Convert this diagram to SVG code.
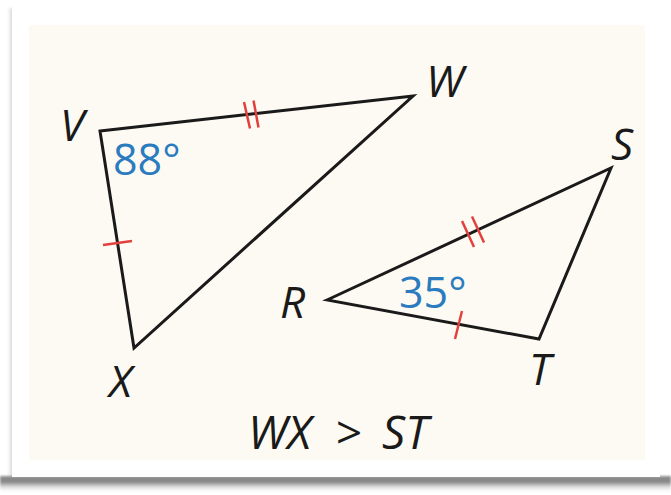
<svg xmlns="http://www.w3.org/2000/svg" width="671" height="495" viewBox="0 0 671 495">
  <defs>
    <linearGradient id="shadowB" x1="0" y1="0" x2="0" y2="1">
      <stop offset="0" stop-color="#909090"/>
      <stop offset="0.35" stop-color="#858585"/>
      <stop offset="1" stop-color="#ffffff" stop-opacity="0"/>
    </linearGradient>
    <linearGradient id="shadowL" x1="0" y1="0" x2="1" y2="0">
      <stop offset="0" stop-color="#ffffff" stop-opacity="0"/>
      <stop offset="1" stop-color="#c8c8c8"/>
    </linearGradient>
    <filter id="blur" x="-10%" y="-10%" width="120%" height="120%">
      <feGaussianBlur stdDeviation="1.2"/>
    </filter>
  </defs>
  <style>
    .edge { fill: none; stroke: #1a1a1a; stroke-width: 3; stroke-linejoin: miter; }
    .tick { stroke: #e2403c; stroke-width: 2.5; fill: none; }
    .lbl { font-family: "Open Sans", "Noto Sans", sans-serif; font-style: italic; font-size: 44px; fill: #1a1a1a; }
    .ang { font-family: "Open Sans", "Noto Sans", sans-serif; font-size: 43px; fill: #2b7bbf; }
  </style>

  <!-- card -->
  <g id="card">
    <rect x="0" y="0" width="671" height="495" fill="#ffffff"/>
    <rect x="6" y="8" width="7" height="470" fill="url(#shadowL)" filter="url(#blur)"/>
    <rect x="0" y="476" width="671" height="17" fill="url(#shadowB)" filter="url(#blur)"/>
    <rect x="12" y="7" width="648" height="470" fill="#ffffff"/>
    <rect x="29" y="25" width="616" height="435" fill="#fdfaf3"/>
  </g>

  <!-- triangle VWX -->
  <g id="triangle-VWX">
    <polygon class="edge" points="100,131 413,96 134,348"/>
    <text class="lbl" x="60" y="141">V</text>
    <text class="lbl" x="426" y="97">W</text>
    <text class="lbl" x="109" y="397">X</text>
    <text class="ang" x="113" y="175">88°</text>
  </g>

  <!-- triangle RST -->
  <g id="triangle-RST">
    <polygon class="edge" points="327,300 611,168 539,339"/>
    <text class="lbl" x="280" y="318">R</text>
    <text class="lbl" x="611" y="160">S</text>
    <text class="lbl" x="529" y="385">T</text>
    <text class="ang" x="399" y="308">35°</text>
  </g>

  <!-- congruence tick marks -->
  <g id="ticks">
    <line class="tick" x1="244" y1="102" x2="250" y2="128.5"/>
    <line class="tick" x1="253.5" y1="100.5" x2="258.5" y2="127.5"/>
    <line class="tick" x1="103" y1="245" x2="132" y2="241"/>
    <line class="tick" x1="462" y1="221" x2="474" y2="247"/>
    <line class="tick" x1="472" y1="216.5" x2="484" y2="242.5"/>
    <line class="tick" x1="462" y1="311" x2="455" y2="339"/>
  </g>

  <text class="lbl" y="449" style="font-size:46px" xml:space="preserve"><tspan x="248">WX</tspan><tspan x="323"> &gt; </tspan><tspan x="382">ST</tspan></text>
</svg>
